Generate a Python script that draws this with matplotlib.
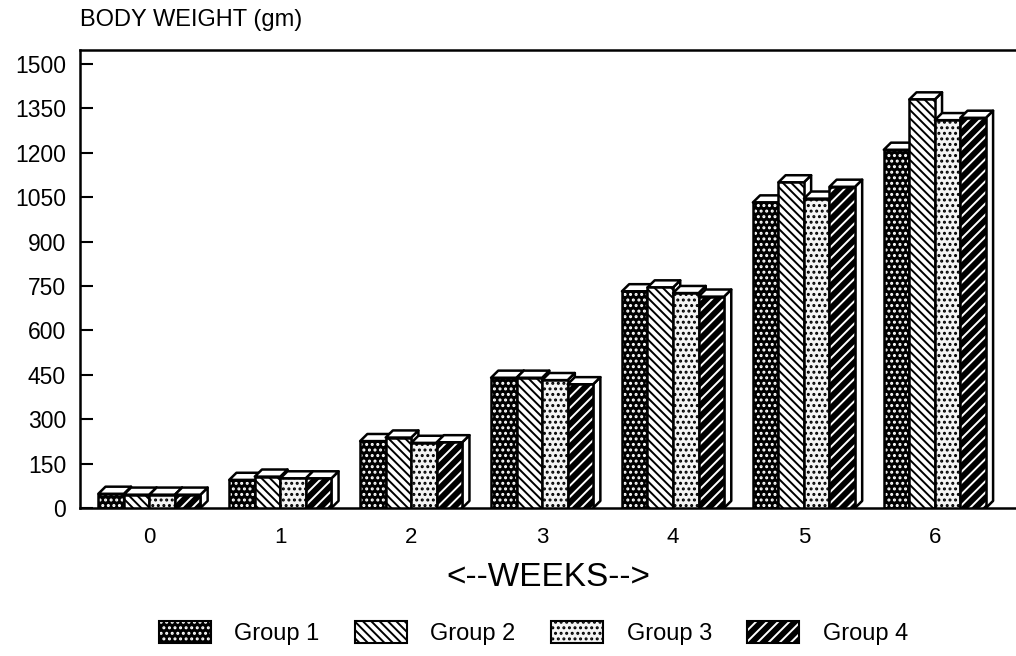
import matplotlib
matplotlib.use("Agg")
import matplotlib.pyplot as plt
from matplotlib.patches import Rectangle, Polygon, Patch
from matplotlib.legend_handler import HandlerTuple

weeks = ["0", "1", "2", "3", "4", "5", "6"]
group_names = ["Group 1", "Group 2", "Group 3", "Group 4"]
group1 = [48, 95, 226, 440, 732, 1032, 1210]
group2 = [45, 106, 238, 440, 745, 1100, 1380]
group3 = [45, 100, 220, 432, 726, 1045, 1310]
group4 = [45, 100, 222, 418, 714, 1085, 1318]
yticks = [0, 150, 300, 450, 600, 750, 900, 1050, 1200, 1350, 1500]

series = [group1, group2, group3, group4]
# (face, hatch colour, hatch) for each group
styles = [("black", "white", "..."),
          ("white", "black", "\\\\\\\\"),
          ("#f4f4f4", "black", "..."),
          ("black", "white", "///")]

plt.rcParams["hatch.linewidth"] = 1.4
FONT = ["Liberation Sans", "DejaVu Sans"]
plt.rcParams["font.family"] = FONT

fig = plt.figure(figsize=(10.16, 6.56), dpi=100)
ax = fig.add_axes([80 / 1016, 148 / 656, 936 / 1016, 458 / 656])
ax.set_xlim(-0.53, 6.62)
ax.set_ylim(0, 1547)

bw = 0.195
dx = 0.055
dy = 24
lw = 1.8

for gi, vals in enumerate(series):
    face, hc, hatch = styles[gi]
    for wi, v in enumerate(vals):
        x0 = wi - 2 * bw + gi * bw
        x1 = x0 + bw
        z = 2 + gi
        # side face
        ax.add_patch(Polygon([(x1, 0), (x1 + dx, dy), (x1 + dx, v + dy), (x1, v)],
                             closed=True, fc="white", ec="black", lw=lw, zorder=z,
                             joinstyle="round"))
        # top face
        ax.add_patch(Polygon([(x0, v), (x0 + dx, v + dy), (x1 + dx, v + dy), (x1, v)],
                             closed=True, fc="white", ec="black", lw=lw, zorder=z,
                             joinstyle="round"))
        # front face: hatch then outline
        ax.add_patch(Rectangle((x0, 0), bw, v, fc=face, ec=hc, hatch=hatch,
                               lw=0, zorder=z))
        ax.add_patch(Rectangle((x0, 0), bw, v, fill=False, ec="black", lw=lw,
                               zorder=z, joinstyle="round"))

ax.set_xticks(range(len(weeks)))
ax.set_xticklabels(weeks, fontsize=16)
ax.set_yticks(yticks)
ax.set_yticklabels([str(t) for t in yticks], fontsize=16.5)
ax.tick_params(axis="x", length=0, pad=14)
ax.tick_params(axis="y", direction="in", length=9, width=1.5, pad=10)
for s in ["left", "bottom", "top"]:
    ax.spines[s].set_linewidth(1.8)
ax.spines["right"].set_visible(False)

ax.set_xlabel("<--WEEKS-->", fontsize=24, labelpad=10)
fig.text(80 / 1016, 1 - 20 / 656, "BODY WEIGHT (gm)", fontsize=17,
         ha="left", va="center")

handles = []
for face, hc, hatch in styles:
    handles.append((Patch(fc=face, ec=hc, hatch=hatch, lw=0),
                    Patch(fill=False, ec="black", lw=1.5)))
fig.legend(handles, group_names, handler_map={tuple: HandlerTuple(ndivide=1)},
           loc="center", bbox_to_anchor=(0.525, 1 - 633 / 656), ncol=4,
           frameon=False, fontsize=17, handlelength=2.2, handleheight=1.1,
           columnspacing=1.5, handletextpad=1.0)

fig.savefig("out.png", dpi=100)
